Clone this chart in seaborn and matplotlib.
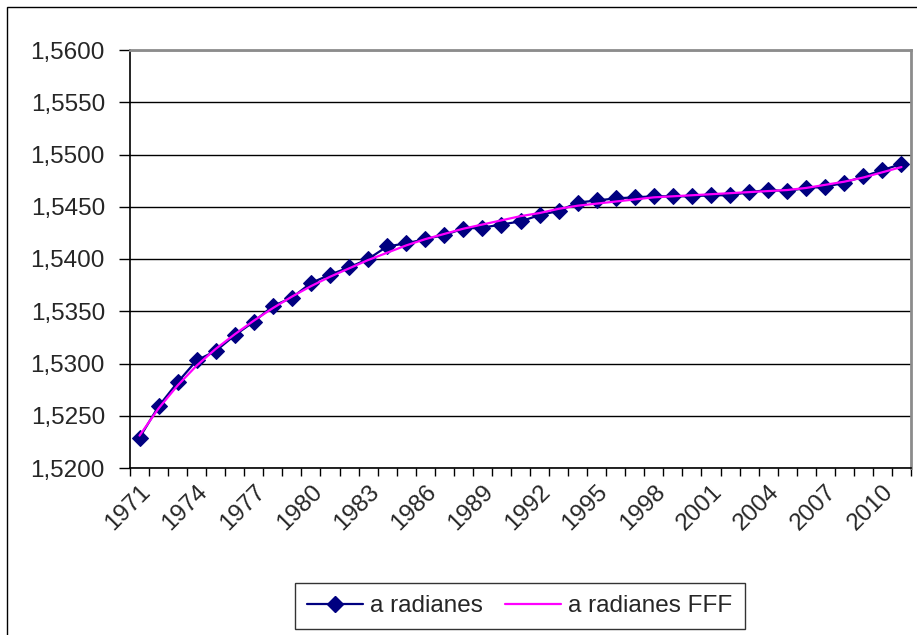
import numpy as np
import pandas as pd
import seaborn as sns
import matplotlib
matplotlib.use("Agg")
import matplotlib.pyplot as plt
from matplotlib.ticker import FuncFormatter, FixedLocator
from matplotlib.lines import Line2D
from matplotlib.patches import Rectangle

# Years of the series
years = list(range(1971, 2012))

# Measured values (radians)
a_radianes = [
    1.5229, 1.5259, 1.5282, 1.5303, 1.5312, 1.5327, 1.5340, 1.5355, 1.5363, 1.5377,
    1.5385, 1.5392, 1.5400, 1.5412, 1.5415, 1.5419, 1.5423, 1.5429, 1.5430, 1.5433,
    1.5436, 1.5442, 1.5446, 1.5454, 1.5456, 1.5458, 1.5459, 1.5460, 1.5460, 1.5460,
    1.5461, 1.5461, 1.5464, 1.5466, 1.5465, 1.5468, 1.5469, 1.5473, 1.5479, 1.5485,
    1.5491,
]

# Fitted (smoothed) values
a_radianes_fff = [
    1.5231, 1.5257, 1.5279, 1.5298, 1.5314, 1.5328, 1.5341, 1.5353, 1.5364, 1.5374,
    1.5383, 1.5391, 1.5399, 1.5406, 1.5413, 1.5419, 1.5424, 1.5429, 1.5433, 1.5437,
    1.5441, 1.5444, 1.5448, 1.5451, 1.5453, 1.5455, 1.5457, 1.5459, 1.5460, 1.5461,
    1.5462, 1.5463, 1.5464, 1.5465, 1.5466, 1.5468, 1.5471, 1.5474, 1.5478, 1.5483,
    1.5488,
]

y_ticks = [1.5200, 1.5250, 1.5300, 1.5350, 1.5400, 1.5450, 1.5500, 1.5550, 1.5600]
label_step = 3

df = pd.DataFrame({
    "pos": np.arange(len(years)),
    "year": years,
    "a radianes": a_radianes,
    "a radianes FFF": a_radianes_fff,
})

sns.set_theme(style="white")
plt.rcParams["font.family"] = ["Liberation Sans", "DejaVu Sans"]

W, H = 917, 635
fig = plt.figure(figsize=(W / 100, H / 100), dpi=100)
fig.patch.set_facecolor("white")

# outer chart frame
fig.patches.append(Rectangle((7 / W, -0.05), 1.2, 1 - 7 / H + 0.05,
                             transform=fig.transFigure, fill=False,
                             edgecolor="black", linewidth=1.0, zorder=0))

left, right, top, bottom = 130, 911, 50, 468
ax = fig.add_axes([left / W, 1 - bottom / H, (right - left) / W, (bottom - top) / H])
ax.set_facecolor("white")

navy = "#000080"
magenta = "#FF00FF"
fs = 17.5

sns.lineplot(data=df, x="pos", y="a radianes", ax=ax, color=navy, linewidth=1.6,
             marker="D", markersize=8.5, markeredgecolor=navy, markerfacecolor=navy,
             zorder=3, legend=False)
sns.lineplot(data=df, x="pos", y="a radianes FFF", ax=ax, color=magenta, linewidth=1.6,
             zorder=4, legend=False)

ax.set_xlim(-0.5, len(years) - 0.5)
ax.set_ylim(y_ticks[0], y_ticks[-1])

# y axis
ax.set_yticks(y_ticks)
ax.yaxis.set_major_formatter(FuncFormatter(lambda v, _: f"{v:.4f}".replace(".", ",")))
ax.yaxis.grid(True, color="black", linewidth=1.0)
ax.tick_params(axis="y", which="major", direction="out", length=8, width=1,
               color="black", labelsize=fs, pad=10, left=True)

# x axis: labels at every third category, tick marks between categories
label_pos = list(range(0, len(years), label_step))
ax.xaxis.set_major_locator(FixedLocator(label_pos))
ax.set_xticklabels([str(years[i]) for i in label_pos], rotation=45,
                   ha="right", va="top", rotation_mode="anchor")
ax.xaxis.set_minor_locator(FixedLocator(np.arange(-0.5, len(years), 1.0)))
ax.tick_params(axis="x", which="major", length=0, labelsize=fs, pad=9)
ax.tick_params(axis="x", which="minor", direction="out", length=6, width=1,
               color="black", bottom=True)

ax.set_xlabel("")
ax.set_ylabel("")

for side in ["left", "bottom"]:
    ax.spines[side].set_color("black")
    ax.spines[side].set_linewidth(1.2)
for side in ["top", "right"]:
    ax.spines[side].set_color("#8c8c8c")
    ax.spines[side].set_linewidth(2.0)
    ax.spines[side].set_visible(True)

handles = [
    Line2D([], [], color=navy, linewidth=1.6, marker="D", markersize=8.5,
           markerfacecolor=navy, markeredgecolor=navy),
    Line2D([], [], color=magenta, linewidth=1.6),
]
leg = fig.legend(handles, ["a radianes", "a radianes FFF"], loc="center",
                 bbox_to_anchor=(520 / W, 1 - 606 / H), ncol=2, fontsize=fs,
                 frameon=True, fancybox=False, shadow=False, handlelength=2.3,
                 handletextpad=0.3, columnspacing=0.9, borderpad=0.5,
                 borderaxespad=0)
leg.get_frame().set_edgecolor("black")
leg.get_frame().set_linewidth(1.0)

fig.savefig("out.png", dpi=100, facecolor="white")
